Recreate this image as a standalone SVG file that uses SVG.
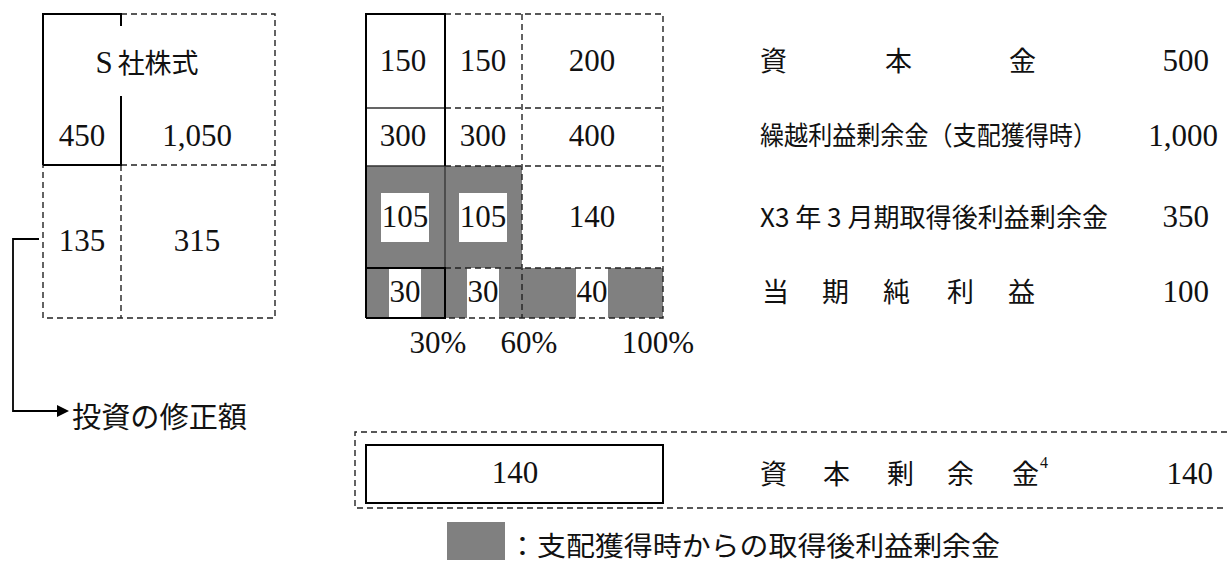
<svg xmlns="http://www.w3.org/2000/svg" width="1227" height="563" viewBox="0 0 1227 563">
<style>
.num{font-family:"Liberation Serif",serif;font-size:31px;fill:#111;text-anchor:middle}
.numr{font-family:"Liberation Serif",serif;font-size:31px;fill:#111;text-anchor:end}
.jp{font-family:"Noto Sans CJK JP",sans-serif;fill:#111}
.sup{font-family:"Liberation Serif",serif;font-size:16px}
.solid{fill:none;stroke:#000;stroke-width:2}
.thin{fill:none;stroke:#333;stroke-width:1.3}
.dash{fill:none;stroke:#222;stroke-width:1.4;stroke-dasharray:6 4}
.gray{fill:#808080}
.white{fill:#fff}
</style>
<defs>
<marker id="arr" markerWidth="12" markerHeight="12" refX="1" refY="6" orient="auto" markerUnits="userSpaceOnUse">
<polygon points="0,0 12,6 0,12" fill="#000"/>
</marker>
</defs>
<rect width="1227" height="563" fill="#fff"/>

<g id="s-stock">
<path class="dash" d="M121,14 H275 V318 H43 V165 M121,165 H275 M121,165 V318"/>
<path class="solid" d="M43,165 V14 H121 V26 M121,96 V165 H43"/>
<text class="jp" x="147" y="73" text-anchor="middle" style="font-size:27px"><tspan class="num" style="font-size:31px">S</tspan><tspan dx="5">社株式</tspan></text>
<text class="num" x="82" y="146">450</text>
<text class="num" x="197" y="146">1,050</text>
<text class="num" x="82" y="251">135</text>
<text class="num" x="197" y="251">315</text>
</g>

<g id="equity-box">
<rect class="gray" x="366" y="166" width="156" height="102"/>
<rect class="gray" x="366" y="268" width="297" height="50"/>
<rect class="white" x="381" y="193" width="48" height="49"/>
<rect class="white" x="459" y="193" width="48" height="49"/>
<rect class="white" x="389" y="268" width="32" height="50"/>
<rect class="white" x="467" y="268" width="32" height="50"/>
<rect class="white" x="576" y="268" width="32" height="50"/>
<path class="dash" d="M445,14 H663 V318 H445 M445,108 H663 M445,166 H663 M445,268 H663 M522,14 V318"/>
<path class="thin" d="M366,108 H445 M366,166 H445 M445,166 V268"/>
<path class="solid" d="M366,318 V14 H445 V166 M366,268 H445 V318 H366"/>
<text class="num" x="403" y="71">150</text>
<text class="num" x="483" y="71">150</text>
<text class="num" x="592" y="71">200</text>
<text class="num" x="403" y="146">300</text>
<text class="num" x="483" y="146">300</text>
<text class="num" x="592" y="146">400</text>
<text class="num" x="405" y="227">105</text>
<text class="num" x="483" y="227">105</text>
<text class="num" x="592" y="227">140</text>
<text class="num" x="405" y="302">30</text>
<text class="num" x="483" y="302">30</text>
<text class="num" x="592" y="302">40</text>
<text class="num" x="438" y="353">30%</text>
<text class="num" x="529" y="353">60%</text>
<text class="num" x="658" y="353">100%</text>
</g>

<g id="equity-items">
<text class="jp" x="760 885 1009" y="71" style="font-size:27px">資本金</text>
<text class="numr" x="1209" y="71">500</text>
<text class="jp" x="760" y="145" style="font-size:26px" textLength="337" lengthAdjust="spacingAndGlyphs">繰越利益剰余金（支配獲得時）</text>
<text class="numr" x="1218" y="146">1,000</text>
<text class="jp" x="760" y="227" style="font-size:26px" textLength="348" lengthAdjust="spacingAndGlyphs">X3 年 3 月期取得後利益剰余金</text>
<text class="numr" x="1209" y="227">350</text>
<text class="jp" x="762 822 883 947 1008" y="302" style="font-size:27px">当期純利益</text>
<text class="numr" x="1209" y="302">100</text>
</g>

<g id="capital-surplus">
<path class="dash" d="M1227,432 H355 V508 H1227"/>
<rect class="solid" x="366" y="445" width="297" height="58"/>
<text class="num" x="515" y="483">140</text>
<text class="jp" x="760 823 887 947 1012" y="484" style="font-size:27px">資本剰余金<tspan class="sup" x="1040" y="468">4</tspan></text>
<text class="numr" x="1213" y="484">140</text>
</g>

<g id="adjustment">
<text class="jp" x="72" y="428" style="font-size:29px" textLength="175" lengthAdjust="spacingAndGlyphs">投資の修正額</text>
</g>

<g id="legend">
<rect class="gray" x="447" y="522" width="58" height="38"/>
<text class="jp" x="508" y="556" style="font-size:27px" textLength="492" lengthAdjust="spacingAndGlyphs">：支配獲得時からの取得後利益剰余金</text>
</g>

<g id="connectors">
<path d="M39,239 H13 V411 H58" fill="none" stroke="#000" stroke-width="1.8" marker-end="url(#arr)"/>
</g>
</svg>
